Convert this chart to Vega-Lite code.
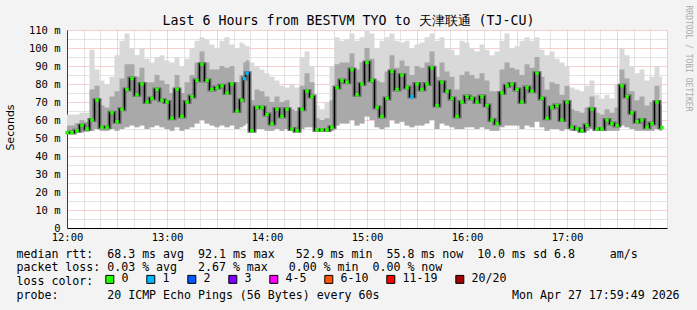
{
  "$schema": "https://vega.github.io/schema/vega-lite/v6.json",
  "width": 600,
  "height": 198,
  "autosize": {"type": "none"},
  "padding": {"left": 67, "top": 30, "right": 30, "bottom": 82},
  "background": "#f3f3f3",
  "config": {"view": {"fill": "#ffffff", "stroke": null}},
  "data": {"values": [
    {"t":"2026-04-27T12:00","m":53,"lo":52.5,"h2":57,"hi":63,"l":"0"},
    {"t":"2026-04-27T12:03","m":53,"lo":52.5,"h2":57,"hi":63,"l":"0"},
    {"t":"2026-04-27T12:06","m":54,"lo":53,"h2":58,"hi":63,"l":"0"},
    {"t":"2026-04-27T12:09","m":57,"lo":53,"h2":60,"hi":64,"l":"0"},
    {"t":"2026-04-27T12:12","m":55,"lo":53.5,"h2":59,"hi":64,"l":"0"},
    {"t":"2026-04-27T12:15","m":60,"lo":54,"h2":77,"hi":99,"l":"0"},
    {"t":"2026-04-27T12:18","m":71,"lo":55,"h2":79,"hi":88,"l":"0"},
    {"t":"2026-04-27T12:21","m":56,"lo":54,"h2":68,"hi":82,"l":"0"},
    {"t":"2026-04-27T12:24","m":56,"lo":54,"h2":67,"hi":80,"l":"0"},
    {"t":"2026-04-27T12:27","m":64,"lo":55,"h2":73,"hi":84,"l":"0"},
    {"t":"2026-04-27T12:30","m":59,"lo":54,"h2":76,"hi":96,"l":"0"},
    {"t":"2026-04-27T12:33","m":66,"lo":55,"h2":83,"hi":104,"l":"0"},
    {"t":"2026-04-27T12:36","m":77,"lo":56,"h2":91,"hi":108,"l":"0"},
    {"t":"2026-04-27T12:39","m":83,"lo":57,"h2":91,"hi":100,"l":"0"},
    {"t":"2026-04-27T12:42","m":74,"lo":56,"h2":84,"hi":96,"l":"0"},
    {"t":"2026-04-27T12:45","m":80,"lo":57,"h2":89,"hi":100,"l":"0"},
    {"t":"2026-04-27T12:48","m":70,"lo":55,"h2":81,"hi":94,"l":"0"},
    {"t":"2026-04-27T12:51","m":72,"lo":56,"h2":81,"hi":92,"l":"0"},
    {"t":"2026-04-27T12:54","m":77,"lo":57,"h2":85,"hi":95,"l":"0"},
    {"t":"2026-04-27T12:57","m":71,"lo":56,"h2":82,"hi":96,"l":"0"},
    {"t":"2026-04-27T13:00","m":70,"lo":55,"h2":80,"hi":93,"l":"0"},
    {"t":"2026-04-27T13:03","m":61,"lo":54,"h2":75,"hi":92,"l":"0"},
    {"t":"2026-04-27T13:06","m":77,"lo":56,"h2":85,"hi":95,"l":"0"},
    {"t":"2026-04-27T13:09","m":62,"lo":54,"h2":75,"hi":90,"l":"0"},
    {"t":"2026-04-27T13:12","m":70,"lo":55,"h2":81,"hi":94,"l":"0"},
    {"t":"2026-04-27T13:15","m":73,"lo":56,"h2":85,"hi":100,"l":"0"},
    {"t":"2026-04-27T13:18","m":82,"lo":58,"h2":92,"hi":104,"l":"0"},
    {"t":"2026-04-27T13:21","m":91,"lo":60,"h2":98,"hi":106,"l":"0"},
    {"t":"2026-04-27T13:24","m":82,"lo":58,"h2":92,"hi":105,"l":"0"},
    {"t":"2026-04-27T13:27","m":77,"lo":57,"h2":88,"hi":102,"l":"0"},
    {"t":"2026-04-27T13:30","m":78,"lo":56,"h2":88,"hi":100,"l":"0"},
    {"t":"2026-04-27T13:33","m":79,"lo":57,"h2":90,"hi":104,"l":"0"},
    {"t":"2026-04-27T13:36","m":75,"lo":56,"h2":89,"hi":106,"l":"0"},
    {"t":"2026-04-27T13:39","m":80,"lo":57,"h2":90,"hi":102,"l":"0"},
    {"t":"2026-04-27T13:42","m":65,"lo":55,"h2":81,"hi":100,"l":"0"},
    {"t":"2026-04-27T13:45","m":71,"lo":56,"h2":85,"hi":103,"l":"0"},
    {"t":"2026-04-27T13:46:30","m":83,"lo":57,"h2":92,"hi":102,"l":"1"},
    {"t":"2026-04-27T13:48","m":86,"lo":58,"h2":93,"hi":101,"l":"1"},
    {"t":"2026-04-27T13:51","m":54,"lo":53.5,"h2":71,"hi":92,"l":"0"},
    {"t":"2026-04-27T13:54","m":67,"lo":55,"h2":77,"hi":90,"l":"0"},
    {"t":"2026-04-27T13:57","m":67,"lo":55,"h2":76,"hi":88,"l":"0"},
    {"t":"2026-04-27T14:00","m":63,"lo":54,"h2":73,"hi":86,"l":"0"},
    {"t":"2026-04-27T14:03","m":58,"lo":54,"h2":70,"hi":84,"l":"0"},
    {"t":"2026-04-27T14:06","m":66,"lo":55,"h2":73,"hi":82,"l":"0"},
    {"t":"2026-04-27T14:09","m":62,"lo":54,"h2":70,"hi":79,"l":"0"},
    {"t":"2026-04-27T14:12","m":66,"lo":55,"h2":71,"hi":78,"l":"0"},
    {"t":"2026-04-27T14:15","m":55,"lo":54,"h2":66,"hi":80,"l":"0"},
    {"t":"2026-04-27T14:18","m":54,"lo":53.5,"h2":65,"hi":78,"l":"0"},
    {"t":"2026-04-27T14:21","m":66,"lo":55,"h2":79,"hi":95,"l":"0"},
    {"t":"2026-04-27T14:24","m":76,"lo":56,"h2":86,"hi":98,"l":"0"},
    {"t":"2026-04-27T14:27","m":73,"lo":56,"h2":81,"hi":90,"l":"0"},
    {"t":"2026-04-27T14:30","m":54.5,"lo":54,"h2":61,"hi":68,"l":"0"},
    {"t":"2026-04-27T14:33","m":54.5,"lo":54,"h2":60,"hi":66,"l":"0"},
    {"t":"2026-04-27T14:36","m":54.5,"lo":54,"h2":61,"hi":70,"l":"0"},
    {"t":"2026-04-27T14:39","m":56,"lo":54,"h2":71,"hi":90,"l":"0"},
    {"t":"2026-04-27T14:42","m":78,"lo":57,"h2":91,"hi":106,"l":"0"},
    {"t":"2026-04-27T14:45","m":82,"lo":58,"h2":92,"hi":104,"l":"0"},
    {"t":"2026-04-27T14:48","m":81,"lo":58,"h2":92,"hi":105,"l":"0"},
    {"t":"2026-04-27T14:51","m":88,"lo":60,"h2":97,"hi":108,"l":"0"},
    {"t":"2026-04-27T14:54","m":74,"lo":57,"h2":88,"hi":104,"l":"0"},
    {"t":"2026-04-27T14:57","m":80,"lo":58,"h2":92,"hi":106,"l":"0"},
    {"t":"2026-04-27T15:00","m":92,"lo":62,"h2":100,"hi":110,"l":"0"},
    {"t":"2026-04-27T15:03","m":82,"lo":60,"h2":94,"hi":108,"l":"0"},
    {"t":"2026-04-27T15:06","m":67,"lo":56,"h2":82,"hi":100,"l":"0"},
    {"t":"2026-04-27T15:09","m":62,"lo":55,"h2":81,"hi":104,"l":"0"},
    {"t":"2026-04-27T15:12","m":72,"lo":56,"h2":87,"hi":106,"l":"0"},
    {"t":"2026-04-27T15:15","m":87,"lo":60,"h2":96,"hi":108,"l":"0"},
    {"t":"2026-04-27T15:18","m":77,"lo":58,"h2":89,"hi":104,"l":"0"},
    {"t":"2026-04-27T15:21","m":85,"lo":59,"h2":93,"hi":103,"l":"0"},
    {"t":"2026-04-27T15:24","m":78,"lo":57,"h2":90,"hi":104,"l":"0"},
    {"t":"2026-04-27T15:27","m":73,"lo":56,"h2":85,"hi":100,"l":"1"},
    {"t":"2026-04-27T15:30","m":80,"lo":57,"h2":90,"hi":102,"l":"0"},
    {"t":"2026-04-27T15:33","m":77,"lo":57,"h2":89,"hi":103,"l":"0"},
    {"t":"2026-04-27T15:36","m":80,"lo":58,"h2":92,"hi":106,"l":"0"},
    {"t":"2026-04-27T15:39","m":89,"lo":60,"h2":98,"hi":108,"l":"0"},
    {"t":"2026-04-27T15:42","m":68,"lo":55,"h2":84,"hi":104,"l":"0"},
    {"t":"2026-04-27T15:45","m":81,"lo":58,"h2":92,"hi":106,"l":"0"},
    {"t":"2026-04-27T15:48","m":76,"lo":57,"h2":87,"hi":100,"l":"0"},
    {"t":"2026-04-27T15:51","m":72,"lo":56,"h2":84,"hi":99,"l":"0"},
    {"t":"2026-04-27T15:54","m":62,"lo":55,"h2":77,"hi":96,"l":"0"},
    {"t":"2026-04-27T15:57","m":70,"lo":55,"h2":85,"hi":104,"l":"0"},
    {"t":"2026-04-27T16:00","m":73,"lo":56,"h2":87,"hi":103,"l":"0"},
    {"t":"2026-04-27T16:03","m":72,"lo":56,"h2":85,"hi":100,"l":"0"},
    {"t":"2026-04-27T16:06","m":70,"lo":55,"h2":83,"hi":98,"l":"0"},
    {"t":"2026-04-27T16:09","m":73,"lo":56,"h2":86,"hi":102,"l":"0"},
    {"t":"2026-04-27T16:12","m":68,"lo":55,"h2":82,"hi":99,"l":"0"},
    {"t":"2026-04-27T16:15","m":60,"lo":54,"h2":76,"hi":96,"l":"0"},
    {"t":"2026-04-27T16:18","m":58,"lo":54,"h2":76,"hi":98,"l":"0"},
    {"t":"2026-04-27T16:21","m":75,"lo":56,"h2":88,"hi":104,"l":"0"},
    {"t":"2026-04-27T16:24","m":79,"lo":57,"h2":92,"hi":108,"l":"0"},
    {"t":"2026-04-27T16:27","m":80,"lo":57,"h2":89,"hi":100,"l":"0"},
    {"t":"2026-04-27T16:30","m":77,"lo":57,"h2":88,"hi":101,"l":"0"},
    {"t":"2026-04-27T16:33","m":70,"lo":55,"h2":85,"hi":104,"l":"0"},
    {"t":"2026-04-27T16:36","m":78,"lo":57,"h2":91,"hi":106,"l":"0"},
    {"t":"2026-04-27T16:39","m":76,"lo":56,"h2":89,"hi":104,"l":"0"},
    {"t":"2026-04-27T16:42","m":86,"lo":59,"h2":95,"hi":106,"l":"0"},
    {"t":"2026-04-27T16:45","m":72,"lo":56,"h2":84,"hi":99,"l":"0"},
    {"t":"2026-04-27T16:48","m":61,"lo":54,"h2":77,"hi":96,"l":"0"},
    {"t":"2026-04-27T16:51","m":67,"lo":55,"h2":81,"hi":98,"l":"0"},
    {"t":"2026-04-27T16:54","m":68,"lo":55,"h2":80,"hi":94,"l":"0"},
    {"t":"2026-04-27T16:57","m":60,"lo":54,"h2":74,"hi":92,"l":"0"},
    {"t":"2026-04-27T17:00","m":70,"lo":55,"h2":79,"hi":90,"l":"0"},
    {"t":"2026-04-27T17:03","m":56,"lo":54,"h2":66,"hi":78,"l":"0"},
    {"t":"2026-04-27T17:06","m":55,"lo":54,"h2":65,"hi":77,"l":"0"},
    {"t":"2026-04-27T17:09","m":54,"lo":53.5,"h2":64,"hi":76,"l":"0"},
    {"t":"2026-04-27T17:12","m":57,"lo":54,"h2":67,"hi":79,"l":"0"},
    {"t":"2026-04-27T17:15","m":66,"lo":55,"h2":73,"hi":82,"l":"0"},
    {"t":"2026-04-27T17:18","m":55,"lo":54,"h2":64,"hi":74,"l":"0"},
    {"t":"2026-04-27T17:21","m":55,"lo":54,"h2":63,"hi":72,"l":"0"},
    {"t":"2026-04-27T17:24","m":60,"lo":54,"h2":66,"hi":74,"l":"0"},
    {"t":"2026-04-27T17:27","m":58,"lo":54,"h2":64,"hi":72,"l":"0"},
    {"t":"2026-04-27T17:30","m":57,"lo":54,"h2":67,"hi":80,"l":"0"},
    {"t":"2026-04-27T17:33","m":79,"lo":57,"h2":88,"hi":100,"l":"0"},
    {"t":"2026-04-27T17:36","m":73,"lo":56,"h2":83,"hi":96,"l":"0"},
    {"t":"2026-04-27T17:39","m":64,"lo":55,"h2":76,"hi":90,"l":"0"},
    {"t":"2026-04-27T17:42","m":59,"lo":54,"h2":71,"hi":86,"l":"0"},
    {"t":"2026-04-27T17:45","m":60,"lo":54,"h2":73,"hi":88,"l":"0"},
    {"t":"2026-04-27T17:48","m":56,"lo":54,"h2":68,"hi":82,"l":"0"},
    {"t":"2026-04-27T17:51","m":58,"lo":54,"h2":70,"hi":84,"l":"0"},
    {"t":"2026-04-27T17:54","m":70,"lo":55,"h2":79,"hi":90,"l":"0"},
    {"t":"2026-04-27T17:57","m":55.8,"lo":54,"h2":68,"hi":84,"l":"0"}
  ]},
  "resolve": {"axis": {"x": "independent", "y": "independent"}},
  "layer": [
    {
      "mark": {"type": "area", "interpolate": "step", "color": "#d9d9d9"},
      "encoding": {
        "x": {
          "field": "t", "type": "temporal",
          "scale": {"domain": [{"year": 2026, "month": 4, "date": 27, "hours": 12}, {"year": 2026, "month": 4, "date": 27, "hours": 18}], "nice": false},
          "axis": {
            "orient": "bottom",
            "values": [
              {"year": 2026, "month": 4, "date": 27, "hours": 12, "minutes": 10},
              {"year": 2026, "month": 4, "date": 27, "hours": 12, "minutes": 20},
              {"year": 2026, "month": 4, "date": 27, "hours": 12, "minutes": 40},
              {"year": 2026, "month": 4, "date": 27, "hours": 12, "minutes": 50},
              {"year": 2026, "month": 4, "date": 27, "hours": 13, "minutes": 10},
              {"year": 2026, "month": 4, "date": 27, "hours": 13, "minutes": 20},
              {"year": 2026, "month": 4, "date": 27, "hours": 13, "minutes": 40},
              {"year": 2026, "month": 4, "date": 27, "hours": 13, "minutes": 50},
              {"year": 2026, "month": 4, "date": 27, "hours": 14, "minutes": 10},
              {"year": 2026, "month": 4, "date": 27, "hours": 14, "minutes": 20},
              {"year": 2026, "month": 4, "date": 27, "hours": 14, "minutes": 40},
              {"year": 2026, "month": 4, "date": 27, "hours": 14, "minutes": 50},
              {"year": 2026, "month": 4, "date": 27, "hours": 15, "minutes": 10},
              {"year": 2026, "month": 4, "date": 27, "hours": 15, "minutes": 20},
              {"year": 2026, "month": 4, "date": 27, "hours": 15, "minutes": 40},
              {"year": 2026, "month": 4, "date": 27, "hours": 15, "minutes": 50},
              {"year": 2026, "month": 4, "date": 27, "hours": 16, "minutes": 10},
              {"year": 2026, "month": 4, "date": 27, "hours": 16, "minutes": 20},
              {"year": 2026, "month": 4, "date": 27, "hours": 16, "minutes": 40},
              {"year": 2026, "month": 4, "date": 27, "hours": 16, "minutes": 50},
              {"year": 2026, "month": 4, "date": 27, "hours": 17, "minutes": 10},
              {"year": 2026, "month": 4, "date": 27, "hours": 17, "minutes": 20},
              {"year": 2026, "month": 4, "date": 27, "hours": 17, "minutes": 40},
              {"year": 2026, "month": 4, "date": 27, "hours": 17, "minutes": 50}
            ],
            "labels": false, "ticks": false, "domain": false, "title": null,
            "grid": true, "gridColor": "#c8c8c8", "gridDash": [1, 1]
          }
        },
        "y": {
          "field": "lo", "type": "quantitative",
          "scale": {"domain": [0, 110], "nice": false},
          "axis": {
            "orient": "left", "values": [5, 15, 25, 35, 45, 55, 65, 75, 85, 95, 105],
            "labels": false, "ticks": false, "domain": false, "title": null,
            "grid": true, "gridColor": "#c8c8c8", "gridDash": [1, 1]
          }
        },
        "y2": {"field": "hi"}
      }
    },
    {
      "mark": {"type": "area", "interpolate": "step", "color": "#a9a9a9"},
      "encoding": {
        "x": {
          "field": "t", "type": "temporal",
          "axis": {
            "orient": "bottom", "tickCount": 12,
            "labels": false, "ticks": false, "domain": false, "title": null,
            "grid": true, "gridColor": "#f2a0a0", "gridDash": [1, 1]
          }
        },
        "y": {
          "field": "lo", "type": "quantitative",
          "axis": {
            "orient": "left", "values": [0, 10, 20, 30, 40, 50, 60, 70, 80, 90, 100, 110],
            "labelExpr": "datum.value == 0 ? '0\u00a0\u00a0' : datum.value + '\u00a0m'",
            "labelFont": "DejaVu Sans Mono", "labelFontSize": 10.5, "labelColor": "#000000",
            "labelPadding": 7, "labelOverlap": false, "labelFlush": false,
            "ticks": false,
            "domainColor": "#5a3030",
            "grid": true, "gridColor": "#f2a0a0", "gridDash": [1, 1],
            "title": "Seconds",
            "titleFont": "DejaVu Sans", "titleFontSize": 11, "titleFontWeight": "normal", "titleColor": "#000000",
            "titleAngle": -90, "titleAlign": "center", "titleBaseline": "middle",
            "titleX": -57, "titleY": 97
          }
        },
        "y2": {"field": "h2"}
      }
    },
    {
      "mark": {"type": "line", "interpolate": "step", "color": "#606060", "strokeWidth": 4, "opacity": 0.9},
      "encoding": {
        "x": {
          "field": "t", "type": "temporal",
          "axis": {
            "orient": "bottom",
            "values": [
              {"year": 2026, "month": 4, "date": 27, "hours": 12},
              {"year": 2026, "month": 4, "date": 27, "hours": 13},
              {"year": 2026, "month": 4, "date": 27, "hours": 14},
              {"year": 2026, "month": 4, "date": 27, "hours": 15},
              {"year": 2026, "month": 4, "date": 27, "hours": 16},
              {"year": 2026, "month": 4, "date": 27, "hours": 17}
            ],
            "format": "%H:%M",
            "labelFont": "DejaVu Sans Mono", "labelFontSize": 10.5, "labelColor": "#000000",
            "labelFlush": false, "labelOverlap": false, "labelPadding": 4,
            "ticks": false, "grid": false,
            "domainColor": "#000000",
            "title": [
              "median\u00a0rtt:\u00a0\u00a068.3\u00a0ms\u00a0avg\u00a0\u00a092.1\u00a0ms\u00a0max\u00a0\u00a0\u00a052.9\u00a0ms\u00a0min\u00a0\u00a055.8\u00a0ms\u00a0now\u00a0\u00a010.0\u00a0ms\u00a0sd\u00a06.8\u00a0\u00a0\u00a0\u00a0\u00a0am/s",
              "packet\u00a0loss:\u00a00.03\u00a0%\u00a0avg\u00a0\u00a0\u00a02.67\u00a0%\u00a0max\u00a0\u00a0\u00a00.00\u00a0%\u00a0min\u00a0\u00a00.00\u00a0%\u00a0now",
              "loss\u00a0color:",
              "probe:\u00a0\u00a0\u00a0\u00a0\u00a0\u00a0\u00a020\u00a0ICMP\u00a0Echo\u00a0Pings\u00a0(56\u00a0Bytes)\u00a0every\u00a060s\u00a0\u00a0\u00a0\u00a0\u00a0\u00a0\u00a0\u00a0\u00a0\u00a0\u00a0\u00a0\u00a0\u00a0\u00a0\u00a0\u00a0\u00a0\u00a0Mon\u00a0Apr\u00a027\u00a017:59:49\u00a02026"
            ],
            "titleFont": "DejaVu Sans Mono", "titleFontSize": 11.6, "titleFontWeight": "normal", "titleColor": "#000000",
            "titleAlign": "left", "titleAnchor": "start", "titleBaseline": "top", "titleLineHeight": 13.8,
            "titleX": -51, "titleY": 20
          }
        },
        "y": {"field": "m", "type": "quantitative", "axis": null}
      }
    },
    {
      "mark": {"type": "line", "interpolate": "step", "color": "#000000", "strokeWidth": 1.2},
      "encoding": {
        "x": {
          "field": "t", "type": "temporal",
          "axis": {
            "orient": "top", "labels": false, "ticks": false, "domain": false, "grid": false,
            "title": "Last 6 Hours from BESTVM TYO to 天津联通 (TJ-CU)",
            "titleFont": "DejaVu Sans Mono", "titleFontSize": 13.3, "titleFontWeight": "normal",
            "titleColor": "#000000", "titleAlign": "center", "titleBaseline": "middle",
            "titleX": 281, "titleY": -10
          }
        },
        "y": {
          "field": "m", "type": "quantitative",
          "axis": {
            "orient": "right", "labels": false, "ticks": false, "domain": false, "grid": false,
            "title": "RRDTOOL / TOBI OETIKER",
            "titleFont": "DejaVu Sans Mono", "titleFontSize": 8, "titleFontWeight": "normal",
            "titleColor": "#aaaaaa", "titleAngle": 90, "titleAlign": "left", "titleBaseline": "middle",
            "titleX": 20, "titleY": -25
          }
        }
      }
    },
    {
      "mark": {"type": "point", "shape": "square", "filled": true, "size": 12, "opacity": 1},
      "encoding": {
        "x": {"field": "t", "type": "temporal", "axis": null},
        "y": {"field": "m", "type": "quantitative", "axis": null},
        "color": {
          "field": "l", "type": "nominal",
          "scale": {
            "domain": ["0", "1", "2", "3", "4-5", "6-10", "11-19", "20/20"],
            "range": ["#26ff00", "#00b8ff", "#0059ff", "#7e00ff", "#ff00ff", "#ff5500", "#ff0000", "#a10000"]
          },
          "legend": {
            "orient": "none", "legendX": 37, "legendY": 243.5, "direction": "horizontal", "title": null,
            "symbolType": "square", "symbolSize": 64, "symbolStrokeColor": "#000000", "symbolStrokeWidth": 1, "symbolOpacity": 1,
            "labelFont": "DejaVu Sans Mono", "labelFontSize": 11.6, "labelColor": "#000000",
            "labelOffset": 6, "columnPadding": 15
          }
        }
      }
    }
  ]
}
